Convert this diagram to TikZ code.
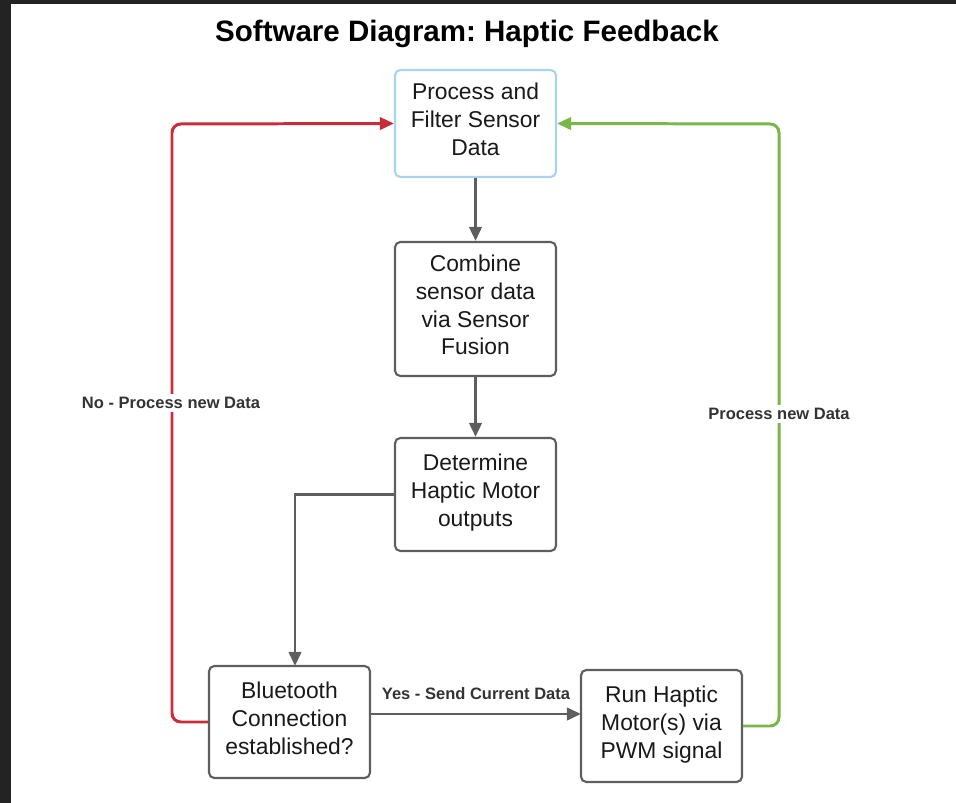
\documentclass[tikz,border=0pt]{standalone}
\usepackage{fontspec}
\setmainfont{Liberation Sans}
\usepackage{tikz}
\usetikzlibrary{arrows.meta}
\definecolor{boxgray}{HTML}{5E5E5E}
\definecolor{boxblue}{HTML}{A7D4EF}
\definecolor{loopred}{HTML}{C92D39}
\definecolor{loopgreen}{HTML}{7AB648}
\definecolor{labelgray}{HTML}{333333}
\definecolor{framedark}{HTML}{232323}
\frenchspacing

\begin{document}
\begin{tikzpicture}[x=0.02cm,y=-0.02cm]
      \tikzset{stepbox/.style={draw=boxgray,line width=1.2pt,rounded corners=3pt,fill=white,
          minimum width=3.22cm,align=center,text=black!90,
          font=\fontsize{13}{15.9}\selectfont,
          execute at begin node=\strut,execute at end node=\strut},
        flow/.style={draw=boxgray,line width=1.7pt,-{Triangle[length=8pt,width=7pt]}},
        loop/.style={line width=1.7pt,rounded corners=5pt,-{Triangle[length=8pt,width=7pt]}},
        edgetext/.style={font=\bfseries\fontsize{9.4}{11}\selectfont,text=labelgray,inner sep=2pt}}
      \useasboundingbox (0,0) rectangle (956,803);
      \fill[framedark] (0,0) rectangle (11,803);
      \fill[framedark] (0,0) rectangle (956,4);
      \node[font=\bfseries\fontsize{16.8}{20}\selectfont] (title) at (467,34) {Software Diagram: Haptic Feedback};

\node[stepbox,draw=boxblue,minimum height=2.14cm] (proc) at (475.5,123.5) {Process and\\Filter Sensor\\Data};
\node[stepbox,minimum height=2.68cm] (fuse) at (475.5,309) {Combine\\sensor data\\via Sensor\\Fusion};
\node[stepbox,minimum height=2.26cm] (motor) at (475.5,494.5) {Determine\\Haptic Motor\\outputs};
\node[stepbox,minimum height=2.24cm] (bt) at (289.5,722) {Bluetooth\\Connection\\established?};
\node[stepbox,minimum height=2.24cm] (run) at (661.5,726) {Run Haptic\\Motor(s) via\\PWM signal};

\coordinate (btin) at (295,666);
\coordinate (yesstart) at (370,714);
\coordinate (yesend) at (581,714);
\coordinate (redturn) at (172,124);
\coordinate (greenturn) at (779,124);

\draw[flow] (proc) -- (fuse);
\draw[flow] (fuse) -- (motor);
\draw[flow] (motor.west) -| (btin);
\draw[flow] (yesstart) -- (yesend);
\node[edgetext] (yes) at (476,694) {Yes - Send Current Data};

\draw[loop,draw=loopred,fill=none] (bt.west) -| (redturn) -- (proc.west);
\draw[loop,draw=loopgreen,fill=none] (run.east) -| (greenturn) -- (proc.east);
\node[edgetext,fill=white] (nolabel) at (171,403) {No - Process new Data};
\node[edgetext,fill=white] (newlabel) at (779,414) {Process new Data};
    \end{tikzpicture}
\end{document}
